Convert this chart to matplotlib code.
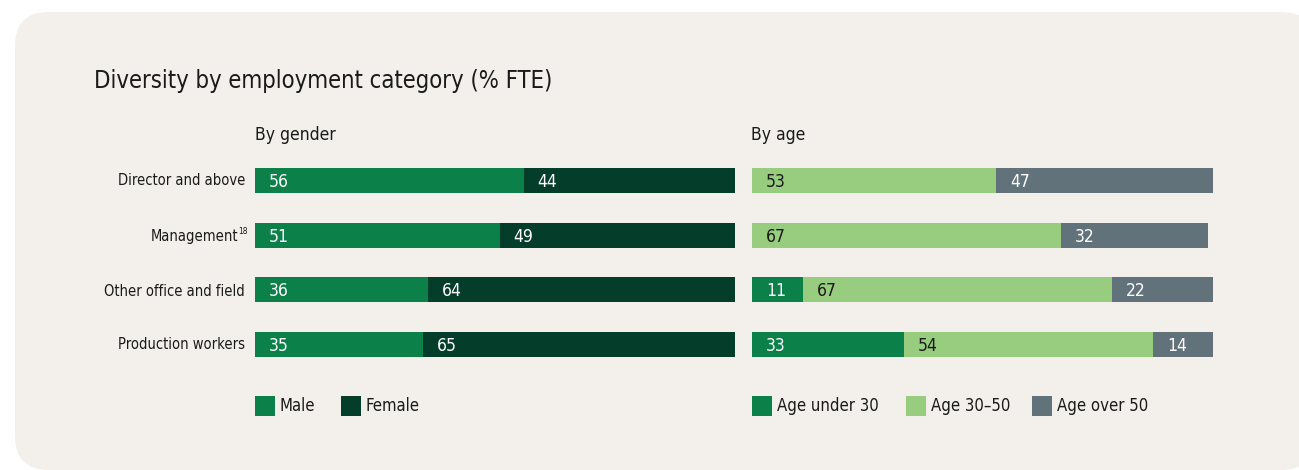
import numpy as np
import matplotlib.pyplot as plt
from matplotlib.patches import FancyBboxPatch, Rectangle

plt.rcParams['font.family'] = ['DejaVu Sans']
plt.rcParams['font.stretch'] = 'condensed'

categories = ['Director and above', 'Management', 'Other office and field', 'Production workers']

male = [56, 51, 36, 35]
female = [44, 49, 64, 65]

age_under30 = [0, 0, 11, 33]
age_30_50 = [53, 67, 67, 54]
age_over50 = [47, 32, 22, 14]

c_male = '#0b8048'
c_female = '#053d2b'
c_mid = '#98cc7e'
c_old = '#62727b'
bg = '#f3f0eb'
ink = '#1a1a1a'

W, H = 1299, 470
fig = plt.figure(figsize=(W / 100, H / 100), dpi=100)
fig.patch.set_facecolor('white')

# full-size layer in pixel units for panel, titles and legends
base = fig.add_axes([0, 0, 1, 1])
base.set_xlim(0, W)
base.set_ylim(H, 0)
base.axis('off')
base.add_patch(FancyBboxPatch((15, 12), 1300, 458, boxstyle='round,pad=0,rounding_size=34',
                              facecolor=bg, edgecolor='none'))

base.text(94, 81, 'Diversity by employment category (% FTE)', fontsize=17.1, color=ink,
          va='center', ha='left')
base.text(255, 135, 'By gender', fontsize=12.5, color=ink, va='center')
base.text(751, 135, 'By age', fontsize=12.5, color=ink, va='center')

ys = [180.5, 236, 291, 344.5]
for cat, y in zip(categories, ys):
    if cat == 'Management':
        base.text(238, y, cat, fontsize=10.5, color=ink, va='center', ha='right')
        base.text(238.5, y - 4, '18', fontsize=6, color=ink, va='center', ha='left')
    else:
        base.text(245, y, cat, fontsize=10.5, color=ink, va='center', ha='right')


def legend_item(x, color, label):
    base.add_patch(Rectangle((x, 396), 20, 20, facecolor=color, edgecolor='none'))
    base.text(x + 25, 406, label, fontsize=12, color=ink, va='center', ha='left')


legend_item(255, c_male, 'Male')
legend_item(341, c_female, 'Female')
legend_item(752, c_male, 'Age under 30')
legend_item(906, c_mid, 'Age 30\u201350')
legend_item(1032, c_old, 'Age over 50')

bot = 1 - 357 / H
hgt = 189 / H
y = np.arange(len(categories))
bh = 0.46


def setup(ax):
    ax.set_xlim(0, 100)
    ax.set_ylim(3 + bh / 2, -bh / 2)
    ax.axis('off')
    ax.patch.set_alpha(0)


def stack(ax, series, colors, txtcolors):
    left = np.zeros(len(categories))
    for vals, col, tc in zip(series, colors, txtcolors):
        vals = np.array(vals, dtype=float)
        ax.barh(y, vals, left=left, height=bh, color=col, edgecolor='none')
        for yi, l, v in zip(y, left, vals):
            if v > 0:
                ax.annotate('%d' % v, (l, yi), xytext=(10, -1), textcoords='offset points',
                            color=tc, fontsize=12.5, va='center', ha='left')
        left += vals


ax1 = fig.add_axes([255 / W, bot, 480 / W, hgt])
setup(ax1)
stack(ax1, [male, female], [c_male, c_female], ['white', 'white'])

ax2 = fig.add_axes([752 / W, bot, 461 / W, hgt])
setup(ax2)
stack(ax2, [age_under30, age_30_50, age_over50], [c_male, c_mid, c_old],
      ['white', ink, 'white'])

fig.savefig('out.png', dpi=100, facecolor=fig.get_facecolor())
